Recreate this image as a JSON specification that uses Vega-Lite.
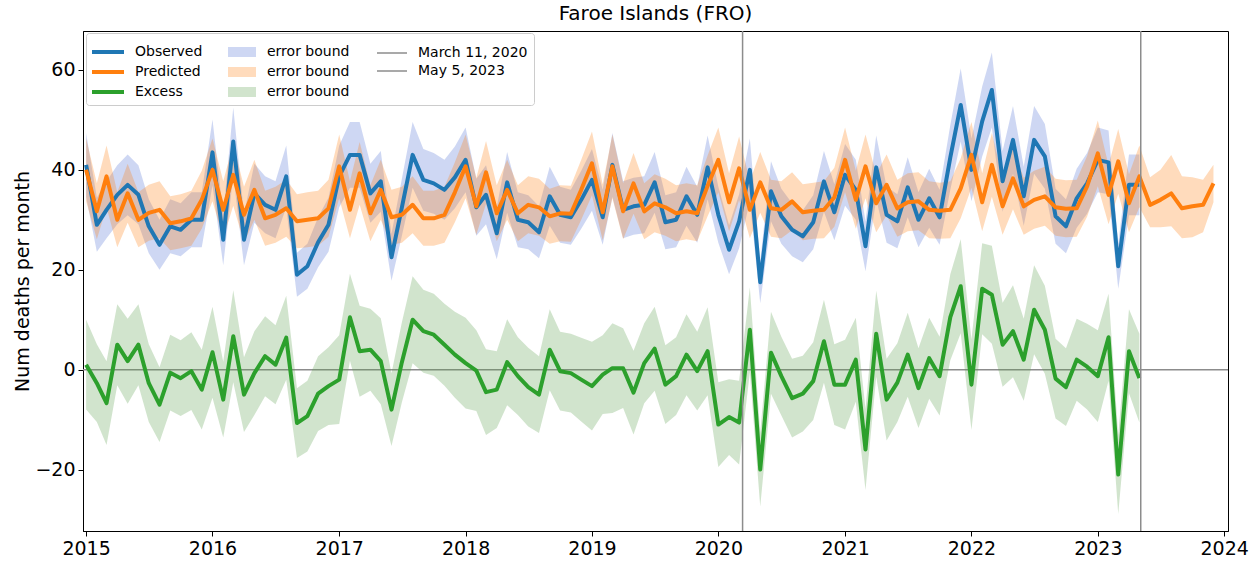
{
  "$schema": "https://vega.github.io/schema/vega-lite/v6.json",
  "width": 1145,
  "height": 500,
  "autosize": {"type": "none"},
  "padding": {"left": 83, "top": 31, "right": 31, "bottom": 32},
  "title": {"text": "Faroe Islands (FRO)", "anchor": "middle", "font": "DejaVu Sans", "fontSize": 20, "fontWeight": "normal", "color": "black", "offset": 6},
  "config": {
    "font": "DejaVu Sans",
    "view": {"stroke": "black", "strokeWidth": 1},
    "axis": {"grid": false, "domainColor": "black", "tickColor": "black", "labelColor": "black", "titleColor": "black", "labelFont": "DejaVu Sans", "labelFontSize": 19, "tickSize": 5, "labelPadding": 3, "domainWidth": 1, "tickWidth": 1},
    "legend": {
      "title": null, "orient": "none", "rowPadding": 5.5, "symbolSize": 196, "labelOffset": 18,
      "labelFont": "DejaVu Sans", "labelFontSize": 14, "labelColor": "black", "labelLimit": 300, "padding": 0
    }
  },
  "datasets": {
    "obs": [
      {"date":"2015-01-01","value":41,"lo":34.6,"hi":47.4},
      {"date":"2015-02-01","value":29,"lo":23.6,"hi":34.4},
      {"date":"2015-03-01","value":32,"lo":26.3,"hi":37.7},
      {"date":"2015-04-01","value":35,"lo":29.1,"hi":40.9},
      {"date":"2015-05-01","value":37,"lo":30.9,"hi":43.1},
      {"date":"2015-06-01","value":35,"lo":29.1,"hi":40.9},
      {"date":"2015-07-01","value":28.7,"lo":23.3,"hi":34.1},
      {"date":"2015-08-01","value":25,"lo":20,"hi":30},
      {"date":"2015-09-01","value":28.7,"lo":23.3,"hi":34.1},
      {"date":"2015-10-01","value":28,"lo":22.7,"hi":33.3},
      {"date":"2015-11-01","value":30,"lo":24.5,"hi":35.5},
      {"date":"2015-12-01","value":30,"lo":24.5,"hi":35.5},
      {"date":"2016-01-01","value":43.5,"lo":36.9,"hi":50.1},
      {"date":"2016-02-01","value":26,"lo":20.9,"hi":31.1},
      {"date":"2016-03-01","value":45.7,"lo":38.9,"hi":52.5},
      {"date":"2016-04-01","value":26,"lo":20.9,"hi":31.1},
      {"date":"2016-05-01","value":35.3,"lo":29.4,"hi":41.2},
      {"date":"2016-06-01","value":33,"lo":27.3,"hi":38.7},
      {"date":"2016-07-01","value":32,"lo":26.3,"hi":37.7},
      {"date":"2016-08-01","value":38.7,"lo":32.5,"hi":44.9},
      {"date":"2016-09-01","value":19,"lo":14.6,"hi":23.4},
      {"date":"2016-10-01","value":20.7,"lo":16.2,"hi":25.2},
      {"date":"2016-11-01","value":25.5,"lo":20.5,"hi":30.5},
      {"date":"2016-12-01","value":29,"lo":23.6,"hi":34.4},
      {"date":"2017-01-01","value":38.7,"lo":32.5,"hi":44.9},
      {"date":"2017-02-01","value":43,"lo":36.4,"hi":49.6},
      {"date":"2017-03-01","value":43,"lo":36.4,"hi":49.6},
      {"date":"2017-04-01","value":35.3,"lo":29.4,"hi":41.2},
      {"date":"2017-05-01","value":37.7,"lo":31.6,"hi":43.8},
      {"date":"2017-06-01","value":22.5,"lo":17.8,"hi":27.2},
      {"date":"2017-07-01","value":32.5,"lo":26.8,"hi":38.2},
      {"date":"2017-08-01","value":43,"lo":36.4,"hi":49.6},
      {"date":"2017-09-01","value":38,"lo":31.8,"hi":44.2},
      {"date":"2017-10-01","value":37.3,"lo":31.2,"hi":43.4},
      {"date":"2017-11-01","value":36,"lo":30,"hi":42},
      {"date":"2017-12-01","value":38.5,"lo":32.3,"hi":44.7},
      {"date":"2018-01-01","value":42,"lo":35.5,"hi":48.5},
      {"date":"2018-02-01","value":32.5,"lo":26.8,"hi":38.2},
      {"date":"2018-03-01","value":35,"lo":29.1,"hi":40.9},
      {"date":"2018-04-01","value":27.3,"lo":22.1,"hi":32.5},
      {"date":"2018-05-01","value":37.5,"lo":31.4,"hi":43.6},
      {"date":"2018-06-01","value":30,"lo":24.5,"hi":35.5},
      {"date":"2018-07-01","value":29.5,"lo":24.1,"hi":34.9},
      {"date":"2018-08-01","value":27.5,"lo":22.3,"hi":32.7},
      {"date":"2018-09-01","value":34.7,"lo":28.8,"hi":40.6},
      {"date":"2018-10-01","value":31,"lo":25.4,"hi":36.6},
      {"date":"2018-11-01","value":30.5,"lo":25,"hi":36},
      {"date":"2018-12-01","value":34,"lo":28.2,"hi":39.8},
      {"date":"2019-01-01","value":38,"lo":31.8,"hi":44.2},
      {"date":"2019-02-01","value":30.5,"lo":25,"hi":36},
      {"date":"2019-03-01","value":41,"lo":34.6,"hi":47.4},
      {"date":"2019-04-01","value":32,"lo":26.3,"hi":37.7},
      {"date":"2019-05-01","value":32.7,"lo":27,"hi":38.4},
      {"date":"2019-06-01","value":33,"lo":27.3,"hi":38.7},
      {"date":"2019-07-01","value":37.5,"lo":31.4,"hi":43.6},
      {"date":"2019-08-01","value":29.5,"lo":24.1,"hi":34.9},
      {"date":"2019-09-01","value":30,"lo":24.5,"hi":35.5},
      {"date":"2019-10-01","value":34.7,"lo":28.8,"hi":40.6},
      {"date":"2019-11-01","value":31,"lo":25.4,"hi":36.6},
      {"date":"2019-12-01","value":40.5,"lo":34.1,"hi":46.9},
      {"date":"2020-01-01","value":31,"lo":25.4,"hi":36.6},
      {"date":"2020-02-01","value":24,"lo":19.1,"hi":28.9},
      {"date":"2020-03-01","value":29.7,"lo":24.3,"hi":35.1},
      {"date":"2020-04-01","value":40,"lo":33.7,"hi":46.3},
      {"date":"2020-05-01","value":17.5,"lo":13.3,"hi":21.7},
      {"date":"2020-06-01","value":35.7,"lo":29.7,"hi":41.7},
      {"date":"2020-07-01","value":30.7,"lo":25.2,"hi":36.2},
      {"date":"2020-08-01","value":28,"lo":22.7,"hi":33.3},
      {"date":"2020-09-01","value":26.7,"lo":21.5,"hi":31.9},
      {"date":"2020-10-01","value":29.5,"lo":24.1,"hi":34.9},
      {"date":"2020-11-01","value":37.7,"lo":31.6,"hi":43.8},
      {"date":"2020-12-01","value":31.5,"lo":25.9,"hi":37.1},
      {"date":"2021-01-01","value":39,"lo":32.8,"hi":45.2},
      {"date":"2021-02-01","value":36,"lo":30,"hi":42},
      {"date":"2021-03-01","value":24.7,"lo":19.7,"hi":29.7},
      {"date":"2021-04-01","value":40.5,"lo":34.1,"hi":46.9},
      {"date":"2021-05-01","value":31,"lo":25.4,"hi":36.6},
      {"date":"2021-06-01","value":29.7,"lo":24.3,"hi":35.1},
      {"date":"2021-07-01","value":36.5,"lo":30.5,"hi":42.5},
      {"date":"2021-08-01","value":30,"lo":24.5,"hi":35.5},
      {"date":"2021-09-01","value":34.3,"lo":28.4,"hi":40.2},
      {"date":"2021-10-01","value":30.5,"lo":25,"hi":36},
      {"date":"2021-11-01","value":42.5,"lo":36,"hi":49},
      {"date":"2021-12-01","value":53,"lo":45.7,"hi":60.3},
      {"date":"2022-01-01","value":40,"lo":33.7,"hi":46.3},
      {"date":"2022-02-01","value":49.7,"lo":42.7,"hi":56.7},
      {"date":"2022-03-01","value":56,"lo":48.5,"hi":63.5},
      {"date":"2022-04-01","value":37.7,"lo":31.6,"hi":43.8},
      {"date":"2022-05-01","value":46,"lo":39.2,"hi":52.8},
      {"date":"2022-06-01","value":34.7,"lo":28.8,"hi":40.6},
      {"date":"2022-07-01","value":46,"lo":39.2,"hi":52.8},
      {"date":"2022-08-01","value":42.7,"lo":36.2,"hi":49.2},
      {"date":"2022-09-01","value":30.7,"lo":25.2,"hi":36.2},
      {"date":"2022-10-01","value":28.7,"lo":23.3,"hi":34.1},
      {"date":"2022-11-01","value":34.3,"lo":28.4,"hi":40.2},
      {"date":"2022-12-01","value":37.3,"lo":31.2,"hi":43.4},
      {"date":"2023-01-01","value":42,"lo":35.5,"hi":48.5},
      {"date":"2023-02-01","value":41.5,"lo":35.1,"hi":47.9},
      {"date":"2023-03-01","value":20.7,"lo":16.2,"hi":25.2},
      {"date":"2023-04-01","value":37,"lo":30.9,"hi":43.1},
      {"date":"2023-05-01","value":37,"lo":30.9,"hi":43.1}
    ],
    "pred": [
      {"date":"2015-01-01","value":40,"lo":33.7,"hi":46.3},
      {"date":"2015-02-01","value":31.7,"lo":26.1,"hi":37.3},
      {"date":"2015-03-01","value":38.7,"lo":32.5,"hi":44.9},
      {"date":"2015-04-01","value":30,"lo":24.5,"hi":35.5},
      {"date":"2015-05-01","value":35.3,"lo":29.4,"hi":41.2},
      {"date":"2015-06-01","value":30,"lo":24.5,"hi":35.5},
      {"date":"2015-07-01","value":31.4,"lo":25.8,"hi":37},
      {"date":"2015-08-01","value":32,"lo":26.3,"hi":37.7},
      {"date":"2015-09-01","value":29.3,"lo":23.9,"hi":34.7},
      {"date":"2015-10-01","value":29.7,"lo":24.3,"hi":35.1},
      {"date":"2015-11-01","value":30.3,"lo":24.8,"hi":35.8},
      {"date":"2015-12-01","value":34,"lo":28.2,"hi":39.8},
      {"date":"2016-01-01","value":40,"lo":33.7,"hi":46.3},
      {"date":"2016-02-01","value":32,"lo":26.3,"hi":37.7},
      {"date":"2016-03-01","value":39,"lo":32.8,"hi":45.2},
      {"date":"2016-04-01","value":31,"lo":25.4,"hi":36.6},
      {"date":"2016-05-01","value":36,"lo":30,"hi":42},
      {"date":"2016-06-01","value":30.3,"lo":24.8,"hi":35.8},
      {"date":"2016-07-01","value":31,"lo":25.4,"hi":36.6},
      {"date":"2016-08-01","value":32.3,"lo":26.6,"hi":38},
      {"date":"2016-09-01","value":29.7,"lo":24.3,"hi":35.1},
      {"date":"2016-10-01","value":30,"lo":24.5,"hi":35.5},
      {"date":"2016-11-01","value":30.3,"lo":24.8,"hi":35.8},
      {"date":"2016-12-01","value":32.3,"lo":26.6,"hi":38},
      {"date":"2017-01-01","value":40.7,"lo":34.3,"hi":47.1},
      {"date":"2017-02-01","value":32,"lo":26.3,"hi":37.7},
      {"date":"2017-03-01","value":39.3,"lo":33,"hi":45.6},
      {"date":"2017-04-01","value":31.3,"lo":25.7,"hi":36.9},
      {"date":"2017-05-01","value":36,"lo":30,"hi":42},
      {"date":"2017-06-01","value":30.5,"lo":25,"hi":36},
      {"date":"2017-07-01","value":31,"lo":25.4,"hi":36.6},
      {"date":"2017-08-01","value":33,"lo":27.3,"hi":38.7},
      {"date":"2017-09-01","value":30.3,"lo":24.8,"hi":35.8},
      {"date":"2017-10-01","value":30.3,"lo":24.8,"hi":35.8},
      {"date":"2017-11-01","value":31,"lo":25.4,"hi":36.6},
      {"date":"2017-12-01","value":35.5,"lo":29.5,"hi":41.5},
      {"date":"2018-01-01","value":40.7,"lo":34.3,"hi":47.1},
      {"date":"2018-02-01","value":32.7,"lo":27,"hi":38.4},
      {"date":"2018-03-01","value":39.5,"lo":33.2,"hi":45.8},
      {"date":"2018-04-01","value":31.3,"lo":25.7,"hi":36.9},
      {"date":"2018-05-01","value":36,"lo":30,"hi":42},
      {"date":"2018-06-01","value":31.3,"lo":25.7,"hi":36.9},
      {"date":"2018-07-01","value":33,"lo":27.3,"hi":38.7},
      {"date":"2018-08-01","value":32.5,"lo":26.8,"hi":38.2},
      {"date":"2018-09-01","value":30.7,"lo":25.2,"hi":36.2},
      {"date":"2018-10-01","value":31.3,"lo":25.7,"hi":36.9},
      {"date":"2018-11-01","value":31.2,"lo":25.6,"hi":36.8},
      {"date":"2018-12-01","value":36,"lo":30,"hi":42},
      {"date":"2019-01-01","value":41.3,"lo":34.9,"hi":47.7},
      {"date":"2019-02-01","value":31.5,"lo":25.9,"hi":37.1},
      {"date":"2019-03-01","value":40.7,"lo":34.3,"hi":47.1},
      {"date":"2019-04-01","value":31.7,"lo":26.1,"hi":37.3},
      {"date":"2019-05-01","value":37.3,"lo":31.2,"hi":43.4},
      {"date":"2019-06-01","value":31.7,"lo":26.1,"hi":37.3},
      {"date":"2019-07-01","value":33.3,"lo":27.5,"hi":39.1},
      {"date":"2019-08-01","value":32.5,"lo":26.8,"hi":38.2},
      {"date":"2019-09-01","value":31.3,"lo":25.7,"hi":36.9},
      {"date":"2019-10-01","value":31.7,"lo":26.1,"hi":37.3},
      {"date":"2019-11-01","value":31.3,"lo":25.7,"hi":36.9},
      {"date":"2019-12-01","value":36.8,"lo":30.7,"hi":42.9},
      {"date":"2020-01-01","value":42,"lo":35.5,"hi":48.5},
      {"date":"2020-02-01","value":33.5,"lo":27.7,"hi":39.3},
      {"date":"2020-03-01","value":40.3,"lo":33.9,"hi":46.7},
      {"date":"2020-04-01","value":32,"lo":26.3,"hi":37.7},
      {"date":"2020-05-01","value":37.5,"lo":31.4,"hi":43.6},
      {"date":"2020-06-01","value":32.3,"lo":26.6,"hi":38},
      {"date":"2020-07-01","value":32,"lo":26.3,"hi":37.7},
      {"date":"2020-08-01","value":33.7,"lo":27.9,"hi":39.5},
      {"date":"2020-09-01","value":31.5,"lo":25.9,"hi":37.1},
      {"date":"2020-10-01","value":31.8,"lo":26.2,"hi":37.4},
      {"date":"2020-11-01","value":32,"lo":26.3,"hi":37.7},
      {"date":"2020-12-01","value":34.5,"lo":28.6,"hi":40.4},
      {"date":"2021-01-01","value":42,"lo":35.5,"hi":48.5},
      {"date":"2021-02-01","value":34,"lo":28.2,"hi":39.8},
      {"date":"2021-03-01","value":40.7,"lo":34.3,"hi":47.1},
      {"date":"2021-04-01","value":33.3,"lo":27.5,"hi":39.1},
      {"date":"2021-05-01","value":37,"lo":30.9,"hi":43.1},
      {"date":"2021-06-01","value":32.3,"lo":26.6,"hi":38},
      {"date":"2021-07-01","value":33.5,"lo":27.7,"hi":39.3},
      {"date":"2021-08-01","value":33.7,"lo":27.9,"hi":39.5},
      {"date":"2021-09-01","value":32,"lo":26.3,"hi":37.7},
      {"date":"2021-10-01","value":31.8,"lo":26.2,"hi":37.4},
      {"date":"2021-11-01","value":32,"lo":26.3,"hi":37.7},
      {"date":"2021-12-01","value":36.3,"lo":30.3,"hi":42.3},
      {"date":"2022-01-01","value":43,"lo":36.4,"hi":49.6},
      {"date":"2022-02-01","value":33.5,"lo":27.7,"hi":39.3},
      {"date":"2022-03-01","value":41,"lo":34.6,"hi":47.4},
      {"date":"2022-04-01","value":32.7,"lo":27,"hi":38.4},
      {"date":"2022-05-01","value":38.3,"lo":32.1,"hi":44.5},
      {"date":"2022-06-01","value":32.7,"lo":27,"hi":38.4},
      {"date":"2022-07-01","value":34,"lo":28.2,"hi":39.8},
      {"date":"2022-08-01","value":34.7,"lo":28.8,"hi":40.6},
      {"date":"2022-09-01","value":32.5,"lo":26.8,"hi":38.2},
      {"date":"2022-10-01","value":32.2,"lo":26.5,"hi":37.9},
      {"date":"2022-11-01","value":32.3,"lo":26.6,"hi":38},
      {"date":"2022-12-01","value":36.7,"lo":30.6,"hi":42.8},
      {"date":"2023-01-01","value":43.3,"lo":36.7,"hi":49.9},
      {"date":"2023-02-01","value":35,"lo":29.1,"hi":40.9},
      {"date":"2023-03-01","value":41.7,"lo":35.2,"hi":48.2},
      {"date":"2023-04-01","value":33.3,"lo":27.5,"hi":39.1},
      {"date":"2023-05-01","value":38.7,"lo":32.5,"hi":44.9},
      {"date":"2023-06-01","value":33,"lo":28.5,"hi":38.5},
      {"date":"2023-07-01","value":34,"lo":28.5,"hi":40},
      {"date":"2023-08-01","value":35.3,"lo":28.7,"hi":43},
      {"date":"2023-09-01","value":32.3,"lo":26.3,"hi":38.7},
      {"date":"2023-10-01","value":32.7,"lo":26.5,"hi":38.5},
      {"date":"2023-11-01","value":33,"lo":27.5,"hi":38},
      {"date":"2023-12-01","value":37.3,"lo":33.5,"hi":41}
    ],
    "exc": [
      {"date":"2015-01-01","value":1,"lo":-8,"hi":10},
      {"date":"2015-02-01","value":-2.7,"lo":-10.5,"hi":5.1},
      {"date":"2015-03-01","value":-6.7,"lo":-15.1,"hi":1.7},
      {"date":"2015-04-01","value":5,"lo":-3.1,"hi":13.1},
      {"date":"2015-05-01","value":1.7,"lo":-6.8,"hi":10.2},
      {"date":"2015-06-01","value":5,"lo":-3.1,"hi":13.1},
      {"date":"2015-07-01","value":-2.7,"lo":-10.5,"hi":5.1},
      {"date":"2015-08-01","value":-7,"lo":-14.5,"hi":0.5},
      {"date":"2015-09-01","value":-0.6,"lo":-8.2,"hi":7},
      {"date":"2015-10-01","value":-1.7,"lo":-9.3,"hi":5.9},
      {"date":"2015-11-01","value":-0.3,"lo":-8.1,"hi":7.5},
      {"date":"2015-12-01","value":-4,"lo":-12,"hi":4},
      {"date":"2016-01-01","value":3.5,"lo":-5.6,"hi":12.6},
      {"date":"2016-02-01","value":-6,"lo":-13.6,"hi":1.6},
      {"date":"2016-03-01","value":6.7,"lo":-2.5,"hi":15.9},
      {"date":"2016-04-01","value":-5,"lo":-12.5,"hi":2.5},
      {"date":"2016-05-01","value":-0.7,"lo":-9.1,"hi":7.7},
      {"date":"2016-06-01","value":2.7,"lo":-5.3,"hi":10.7},
      {"date":"2016-07-01","value":1,"lo":-6.9,"hi":8.9},
      {"date":"2016-08-01","value":6.4,"lo":-2,"hi":14.8},
      {"date":"2016-09-01","value":-10.7,"lo":-17.7,"hi":-3.7},
      {"date":"2016-10-01","value":-9.3,"lo":-16.4,"hi":-2.2},
      {"date":"2016-11-01","value":-4.8,"lo":-12.3,"hi":2.7},
      {"date":"2016-12-01","value":-3.3,"lo":-11.1,"hi":4.5},
      {"date":"2017-01-01","value":-2,"lo":-10.9,"hi":6.9},
      {"date":"2017-02-01","value":10.5,"lo":1.8,"hi":19.2},
      {"date":"2017-03-01","value":3.7,"lo":-5.4,"hi":12.8},
      {"date":"2017-04-01","value":4,"lo":-4.2,"hi":12.2},
      {"date":"2017-05-01","value":1.7,"lo":-6.9,"hi":10.3},
      {"date":"2017-06-01","value":-8,"lo":-15.3,"hi":-0.7},
      {"date":"2017-07-01","value":1.5,"lo":-6.5,"hi":9.5},
      {"date":"2017-08-01","value":10,"lo":1.3,"hi":18.7},
      {"date":"2017-09-01","value":7.7,"lo":-0.6,"hi":16},
      {"date":"2017-10-01","value":7,"lo":-1.2,"hi":15.2},
      {"date":"2017-11-01","value":5,"lo":-3.2,"hi":13.2},
      {"date":"2017-12-01","value":3,"lo":-5.6,"hi":11.6},
      {"date":"2018-01-01","value":1.3,"lo":-7.8,"hi":10.4},
      {"date":"2018-02-01","value":-0.2,"lo":-8.3,"hi":7.9},
      {"date":"2018-03-01","value":-4.5,"lo":-13.1,"hi":4.1},
      {"date":"2018-04-01","value":-4,"lo":-11.7,"hi":3.7},
      {"date":"2018-05-01","value":1.5,"lo":-7.1,"hi":10.1},
      {"date":"2018-06-01","value":-1.3,"lo":-9.1,"hi":6.5},
      {"date":"2018-07-01","value":-3.5,"lo":-11.4,"hi":4.4},
      {"date":"2018-08-01","value":-5,"lo":-12.7,"hi":2.7},
      {"date":"2018-09-01","value":4,"lo":-4.1,"hi":12.1},
      {"date":"2018-10-01","value":-0.3,"lo":-8.2,"hi":7.6},
      {"date":"2018-11-01","value":-0.7,"lo":-8.6,"hi":7.2},
      {"date":"2018-12-01","value":-2,"lo":-10.4,"hi":6.4},
      {"date":"2019-01-01","value":-3.3,"lo":-12.2,"hi":5.6},
      {"date":"2019-02-01","value":-1,"lo":-8.9,"hi":6.9},
      {"date":"2019-03-01","value":0.3,"lo":-8.7,"hi":9.3},
      {"date":"2019-04-01","value":0.3,"lo":-7.7,"hi":8.3},
      {"date":"2019-05-01","value":-4.6,"lo":-13,"hi":3.8},
      {"date":"2019-06-01","value":1.3,"lo":-6.7,"hi":9.3},
      {"date":"2019-07-01","value":4.2,"lo":-4.2,"hi":12.6},
      {"date":"2019-08-01","value":-3,"lo":-10.9,"hi":4.9},
      {"date":"2019-09-01","value":-1.3,"lo":-9.1,"hi":6.5},
      {"date":"2019-10-01","value":3,"lo":-5.1,"hi":11.1},
      {"date":"2019-11-01","value":-0.3,"lo":-8.2,"hi":7.6},
      {"date":"2019-12-01","value":3.7,"lo":-5.1,"hi":12.5},
      {"date":"2020-01-01","value":-11,"lo":-19.5,"hi":-2.5},
      {"date":"2020-02-01","value":-9.5,"lo":-17.1,"hi":-1.9},
      {"date":"2020-03-01","value":-10.6,"lo":-19,"hi":-2.2},
      {"date":"2020-04-01","value":8,"lo":-0.5,"hi":16.5},
      {"date":"2020-05-01","value":-20,"lo":-27.4,"hi":-12.6},
      {"date":"2020-06-01","value":3.4,"lo":-4.8,"hi":11.6},
      {"date":"2020-07-01","value":-1.3,"lo":-9.2,"hi":6.6},
      {"date":"2020-08-01","value":-5.7,"lo":-13.6,"hi":2.2},
      {"date":"2020-09-01","value":-4.8,"lo":-12.4,"hi":2.8},
      {"date":"2020-10-01","value":-2.3,"lo":-10.1,"hi":5.5},
      {"date":"2020-11-01","value":5.7,"lo":-2.6,"hi":14},
      {"date":"2020-12-01","value":-3,"lo":-11.1,"hi":5.1},
      {"date":"2021-01-01","value":-3,"lo":-12,"hi":6},
      {"date":"2021-02-01","value":2,"lo":-6.4,"hi":10.4},
      {"date":"2021-03-01","value":-16,"lo":-24.1,"hi":-7.9},
      {"date":"2021-04-01","value":7.2,"lo":-1.4,"hi":15.8},
      {"date":"2021-05-01","value":-6,"lo":-14.2,"hi":2.2},
      {"date":"2021-06-01","value":-2.6,"lo":-10.5,"hi":5.3},
      {"date":"2021-07-01","value":3,"lo":-5.4,"hi":11.4},
      {"date":"2021-08-01","value":-3.7,"lo":-11.7,"hi":4.3},
      {"date":"2021-09-01","value":2.3,"lo":-5.8,"hi":10.4},
      {"date":"2021-10-01","value":-1.3,"lo":-9.2,"hi":6.6},
      {"date":"2021-11-01","value":10.5,"lo":1.9,"hi":19.1},
      {"date":"2021-12-01","value":16.7,"lo":7.3,"hi":26.1},
      {"date":"2022-01-01","value":-3,"lo":-12.1,"hi":6.1},
      {"date":"2022-02-01","value":16.2,"lo":7.1,"hi":25.3},
      {"date":"2022-03-01","value":15,"lo":5.2,"hi":24.8},
      {"date":"2022-04-01","value":5,"lo":-3.4,"hi":13.4},
      {"date":"2022-05-01","value":7.7,"lo":-1.5,"hi":16.9},
      {"date":"2022-06-01","value":2,"lo":-6.2,"hi":10.2},
      {"date":"2022-07-01","value":12,"lo":3.1,"hi":20.9},
      {"date":"2022-08-01","value":8,"lo":-0.8,"hi":16.8},
      {"date":"2022-09-01","value":-1.8,"lo":-9.8,"hi":6.2},
      {"date":"2022-10-01","value":-3.5,"lo":-11.3,"hi":4.3},
      {"date":"2022-11-01","value":2,"lo":-6.2,"hi":10.2},
      {"date":"2022-12-01","value":0.6,"lo":-8,"hi":9.2},
      {"date":"2023-01-01","value":-1.3,"lo":-10.5,"hi":7.9},
      {"date":"2023-02-01","value":6.5,"lo":-2.2,"hi":15.2},
      {"date":"2023-03-01","value":-21,"lo":-28.9,"hi":-13.1},
      {"date":"2023-04-01","value":3.7,"lo":-4.7,"hi":12.1},
      {"date":"2023-05-01","value":-1.7,"lo":-10.6,"hi":7.2}
    ],
    "events": [
      {"date":"2020-03-11","event":"March 11, 2020"},
      {"date":"2023-05-05","event":"May 5, 2023"}
    ]
  },
  "resolve": {"scale": {"color": "independent"}, "legend": {"color": "independent"}},
  "layer": [
    {
      "data": {"values": [{"zero": 0, "k": "frame"}]},
      "mark": {"type": "rule", "strokeWidth": 1.5},
      "encoding": {
        "y": {"field": "zero", "type": "quantitative"},
        "color": {"field": "k", "type": "nominal", "scale": {"range": ["#8c8c8c"]},
          "legend": {"legendX": 3, "legendY": 2, "symbolType": "M-1,-1H11.4167V1H-1Z", "symbolSize": 5184, "symbolOpacity": 0, "symbolStrokeWidth": 0,
            "labelExpr": "''", "labelOffset": 0, "labelFontSize": 1, "padding": 0,
            "strokeColor": "#cccccc", "fillColor": "rgba(255,255,255,0.8)", "cornerRadius": 3}}
      }
    },
    {
      "layer": [
        {
          "data": {"name": "obs"},
          "mark": {"type": "area", "opacity": 0.28},
          "encoding": {
            "x": {"field": "date", "type": "temporal",
              "scale": {"type": "utc", "domain": [{"year": 2014, "month": 12, "date": 23, "utc": true}, {"year": 2024, "month": 1, "date": 12, "utc": true}]},
              "axis": {"title": null, "format": "%Y", "formatType": "utc", "labelFlush": false, "labelOverlap": false,
                "values": [
                  {"year": 2015, "month": 1, "date": 1, "utc": true},
                  {"year": 2016, "month": 1, "date": 1, "utc": true},
                  {"year": 2017, "month": 1, "date": 1, "utc": true},
                  {"year": 2018, "month": 1, "date": 1, "utc": true},
                  {"year": 2019, "month": 1, "date": 1, "utc": true},
                  {"year": 2020, "month": 1, "date": 1, "utc": true},
                  {"year": 2021, "month": 1, "date": 1, "utc": true},
                  {"year": 2022, "month": 1, "date": 1, "utc": true},
                  {"year": 2023, "month": 1, "date": 1, "utc": true},
                  {"year": 2024, "month": 1, "date": 1, "utc": true}
                ]}},
            "y": {"field": "lo", "type": "quantitative",
              "scale": {"domain": [-32.3, 67.8], "nice": false, "zero": false},
              "axis": {"values": [-20, 0, 20, 40, 60], "labelExpr": "datum.value < 0 ? '\u2212' + abs(datum.value) : datum.label",
                "title": "Num deaths per month", "titleFont": "DejaVu Sans", "titleFontSize": 19, "titleFontWeight": "normal",
                "titleX": -61, "titleY": 250, "titleAngle": -90, "titleAlign": "center", "titleBaseline": "middle"}},
            "y2": {"field": "hi"},
            "color": {"datum": "Observed band", "type": "nominal",
              "scale": {"domain": ["Observed band", "Predicted band", "Excess band"], "range": ["#4f6fd3", "#ff7f0e", "#5a9f4a"]},
              "legend": {"legendX": 152, "legendY": 14, "rowPadding": 6, "symbolType": "M-2,-0.714H2V0.714H-2Z", "symbolOpacity": 0.28, "symbolStrokeWidth": 0,
                "labelExpr": "'error bound'"}}
          }
        },
        {
          "data": {"name": "pred"},
          "mark": {"type": "area", "opacity": 0.28},
          "encoding": {
            "x": {"field": "date", "type": "temporal"},
            "y": {"field": "lo", "type": "quantitative"},
            "y2": {"field": "hi"},
            "color": {"datum": "Predicted band", "type": "nominal"}
          }
        },
        {
          "data": {"name": "exc"},
          "mark": {"type": "area", "opacity": 0.28},
          "encoding": {
            "x": {"field": "date", "type": "temporal"},
            "y": {"field": "lo", "type": "quantitative"},
            "y2": {"field": "hi"},
            "color": {"datum": "Excess band", "type": "nominal"}
          }
        }
      ]
    },
    {
      "layer": [
        {
          "data": {"name": "obs"},
          "mark": {"type": "line", "strokeWidth": 4, "strokeJoin": "round"},
          "encoding": {
            "x": {"field": "date", "type": "temporal"},
            "y": {"field": "value", "type": "quantitative"},
            "color": {"datum": "Observed", "type": "nominal",
              "scale": {"domain": ["Observed", "Predicted", "Excess"], "range": ["#1f77b4", "#ff7f0e", "#2ca02c"]},
              "legend": {"legendX": 16, "legendY": 12, "rowPadding": 3, "symbolType": "M-2.2857,0H2.2857", "symbolStrokeWidth": 4}}
          }
        },
        {
          "data": {"name": "pred"},
          "mark": {"type": "line", "strokeWidth": 4, "strokeJoin": "round"},
          "encoding": {
            "x": {"field": "date", "type": "temporal"},
            "y": {"field": "value", "type": "quantitative"},
            "color": {"datum": "Predicted", "type": "nominal"}
          }
        },
        {
          "data": {"name": "exc"},
          "mark": {"type": "line", "strokeWidth": 4, "strokeJoin": "round"},
          "encoding": {
            "x": {"field": "date", "type": "temporal"},
            "y": {"field": "value", "type": "quantitative"},
            "color": {"datum": "Excess", "type": "nominal"}
          }
        }
      ]
    },
    {
      "data": {"name": "events"},
      "mark": {"type": "rule", "strokeWidth": 1.5},
      "encoding": {
        "x": {"field": "date", "type": "temporal"},
        "color": {"field": "event", "type": "nominal",
          "scale": {"domain": ["March 11, 2020", "May 5, 2023"], "range": ["#8c8c8c", "#8c8c8c"]},
          "legend": {"legendX": 301, "legendY": 14, "rowPadding": 3, "symbolType": "M-2.1429,0H2.1429", "symbolStrokeWidth": 1.5}}
      }
    }
  ]
}
